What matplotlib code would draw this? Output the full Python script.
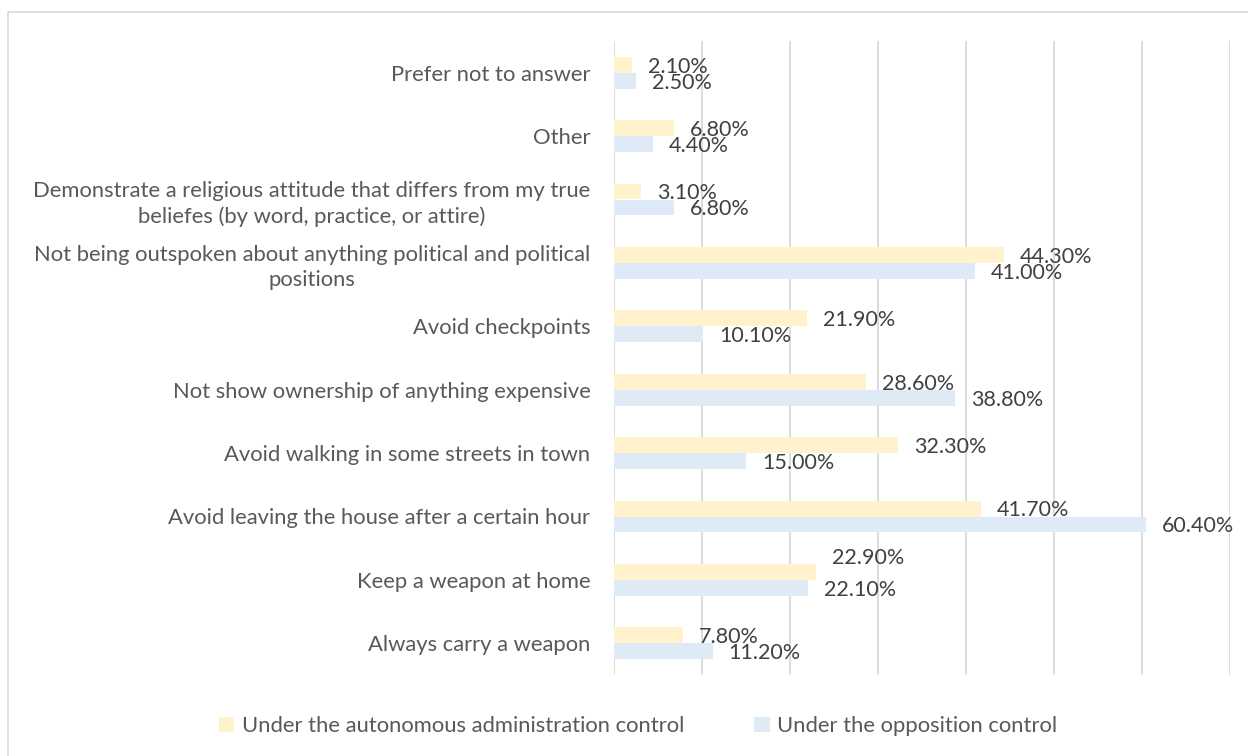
import matplotlib
matplotlib.use('Agg')
from matplotlib import pyplot as plt
from matplotlib.patches import Rectangle
import numpy as np

plt.rcParams['font.family'] = ['Lato', 'DejaVu Sans']

# responses, listed top to bottom
categories = [
    'Prefer not to answer',
    'Other',
    'Demonstrate a religious attitude that differs from my true\nbeliefes (by word, practice, or attire)',
    'Not being outspoken about anything political and political\npositions',
    'Avoid checkpoints',
    'Not show ownership of anything expensive',
    'Avoid walking in some streets in town',
    'Avoid leaving the house after a certain hour',
    'Keep a weapon at home',
    'Always carry a weapon',
]
autonomous = [2.1, 6.8, 3.1, 44.3, 21.9, 28.6, 32.3, 41.7, 22.9, 7.8]
opposition = [2.5, 4.4, 6.8, 41.0, 10.1, 38.8, 15.0, 60.4, 22.1, 11.2]
series_names = ['Under the autonomous administration control', 'Under the opposition control']

yellow = '#FFF2CC'
blue = '#DEEBF7'
grid_col = '#D9D9D9'
label_col = '#595959'
value_col = '#404040'
fs_cat = 15.8
fs_val = 15.5

fig = plt.figure(figsize=(12.48, 7.56), dpi=100)
ax = fig.add_axes([614 / 1248, 1 - 675 / 756, (1230 - 614) / 1248, (675 - 41) / 756])

# light frame around the whole chart (right/bottom run off the canvas)
fig.patches.append(Rectangle((8 / 1248, -0.1), 1.2, 1 - 12 / 756 + 0.1, transform=fig.transFigure,
                             fill=False, edgecolor=grid_col, linewidth=1.2, zorder=0))

y = np.arange(len(categories))
h = 0.25
ax.barh(y - h / 2, autonomous, height=h, color=yellow, label=series_names[0], zorder=2)
ax.barh(y + h / 2, opposition, height=h, color=blue, label=series_names[1], zorder=2)

ax.set_xlim(0, 70)
ax.set_ylim(len(categories) - 0.5, -0.5)
ax.set_xticks(np.arange(0, 71, 10))
ax.xaxis.grid(True, color=grid_col, linewidth=1.3)
ax.set_axisbelow(True)
ax.tick_params(axis='x', length=0, labelbottom=False)
ax.tick_params(axis='y', length=0, pad=17)
ax.set_yticks(y)
ax.set_yticklabels(categories, fontsize=fs_cat, color=label_col, ha='right',
                   multialignment='center', linespacing=1.3)
for s in ax.spines.values():
    s.set_visible(False)

# value labels just past the end of each bar
px = 16 / (616 / 70)
nudge = 0.03
for i, (a, o) in enumerate(zip(autonomous, opposition)):
    dy = -0.25 if i == 8 else 0
    ax.text(a + px, i - h / 2 + dy + nudge, f'{a:.2f}%', va='center', ha='left',
            fontsize=fs_val, color=value_col, zorder=3)
    ax.text(o + px, i + h / 2 + nudge, f'{o:.2f}%', va='center', ha='left',
            fontsize=fs_val, color=value_col, zorder=3)

fig.legend(loc='center', bbox_to_anchor=(638 / 1248, 1 - 726 / 756), ncol=2, frameon=False,
           fontsize=fs_cat, labelcolor=label_col, handlelength=0.7, handleheight=0.7,
           handletextpad=0.35, columnspacing=3.2)

fig.savefig('out.png', dpi=100)
